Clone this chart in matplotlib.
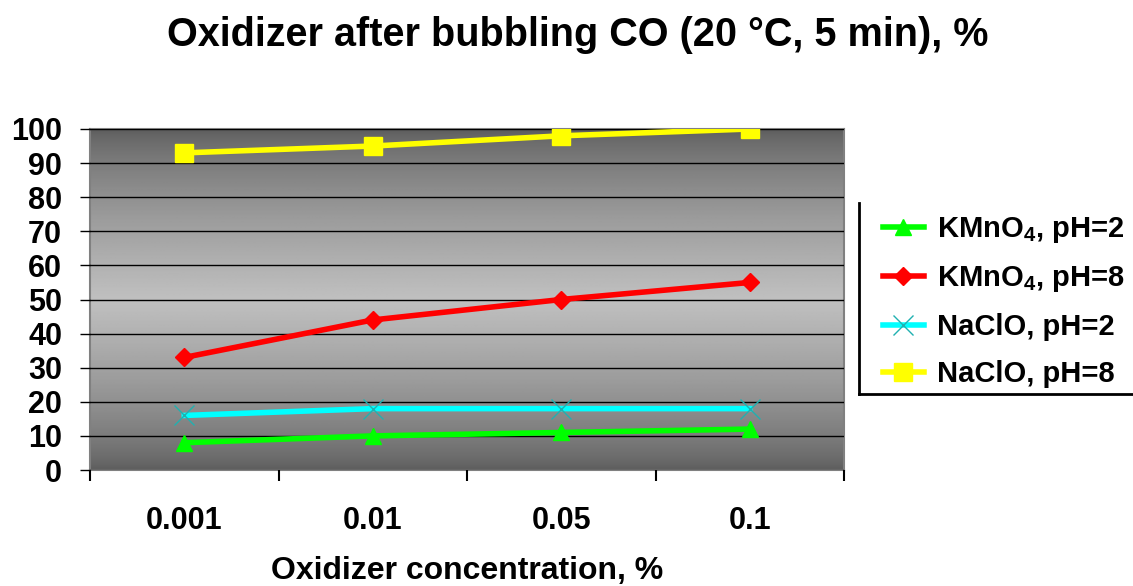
import numpy as np
import matplotlib.pyplot as plt
from matplotlib.lines import Line2D

plt.rcParams["font.family"] = ["Liberation Sans", "DejaVu Sans"]
plt.rcParams["font.weight"] = "bold"
plt.rcParams["mathtext.fontset"] = "custom"
plt.rcParams["mathtext.bf"] = "Liberation Sans:bold"
plt.rcParams["mathtext.rm"] = "Liberation Sans:bold"

categories = ["0.001", "0.01", "0.05", "0.1"]
kmno4_ph2 = [8, 10, 11, 12]
kmno4_ph8 = [33, 44, 50, 55]
naclo_ph2 = [16, 18, 18, 18]
naclo_ph8 = [93, 95, 98, 100]
y_ticks = [0, 10, 20, 30, 40, 50, 60, 70, 80, 90, 100]

W, H = 1133, 586
fig = plt.figure(figsize=(W / 100, H / 100), dpi=100)
ax = fig.add_axes([90 / W, 1 - 470 / H, 754 / W, 341 / H])

x = np.arange(len(categories))
ax.set_xlim(-0.5, len(categories) - 0.5)
ax.set_ylim(0, 100)

# grey gradient background, dark at top/bottom, light in the middle
yy = np.linspace(0, 1, 256)
shade = 1 - np.abs(yy - 0.5) / 0.5
shade = 0x5c + (0xc0 - 0x5c) * shade ** 0.7
grad = np.repeat((shade / 255)[:, None], 2, axis=1)
ax.imshow(grad, cmap="gray", vmin=0, vmax=1, aspect="auto", origin="lower",
          extent=[-0.5, len(categories) - 0.5, 0, 100], zorder=0)

ax.yaxis.grid(True, color="black", linewidth=1, zorder=1)
ax.set_axisbelow(False)

ax.plot(x, kmno4_ph2, "-^", color="#00ff00", lw=4, ms=12, zorder=3,
        label=r"KMnO$_\mathbf{4}$, pH=2")
ax.plot(x, kmno4_ph8, "-D", color="#ff0000", lw=4, ms=9, zorder=3,
        label=r"KMnO$_\mathbf{4}$, pH=8")
ax.plot(x, naclo_ph2, "-x", color="#00ffff", lw=4, ms=14, mew=1,
        mec="#20b0b0", zorder=3, label="NaClO, pH=2")
ax.plot(x, naclo_ph8, "-s", color="#ffff00", lw=4, ms=13, zorder=3,
        label="NaClO, pH=8")

ax.set_yticks(y_ticks)
ax.set_yticklabels([str(v) for v in y_ticks], fontsize=22, fontweight="bold")
ax.tick_params(axis="y", length=7, width=1, pad=13)

ax.set_xticks(np.arange(len(categories) + 1) - 0.5)
ax.set_xticklabels([])
ax.set_xticks(x, minor=True)
ax.set_xticklabels(categories, minor=True, fontsize=22, fontweight="bold")
ax.tick_params(axis="x", which="major", length=8, width=1.5)
ax.tick_params(axis="x", which="minor", length=0, pad=26)

for s in ax.spines.values():
    s.set_color("#808080")
    s.set_linewidth(1.5)

fig.text(578 / W, 1 - 35 / H, "Oxidizer after bubbling CO (20 °C, 5 min), %",
         ha="center", va="center", fontsize=28.5, fontweight="bold")
fig.text(467 / W, 1 - 571 / H, "Oxidizer concentration, %",
         ha="center", va="center", fontsize=23, fontweight="bold")

leg = fig.legend(loc="upper left", bbox_to_anchor=(883 / W, 1 - 215 / H),
                 frameon=False, fontsize=21, handlelength=1.4,
                 handletextpad=0.45, labelspacing=0.65,
                 borderpad=0, borderaxespad=0)
for t in leg.get_texts():
    t.set_fontweight("bold")

# legend box: only left and bottom edges are visible
fig.add_artist(Line2D([859 / W, 859 / W], [1 - 203 / H, 1 - 394 / H],
                      color="black", lw=2, transform=fig.transFigure))
fig.add_artist(Line2D([859 / W, 1], [1 - 394 / H, 1 - 394 / H],
                      color="black", lw=2, transform=fig.transFigure))

fig.savefig("out.png", dpi=100)
